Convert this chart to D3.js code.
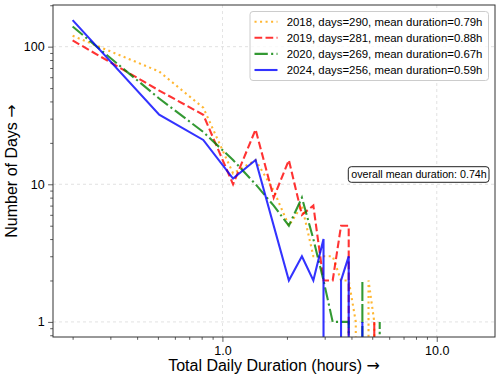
<!DOCTYPE html>
<html>
<head>
<meta charset="utf-8">
<script src="https://cdn.jsdelivr.net/npm/d3@7"></script>
<style>
	body { margin: 0; background: #fff; }
	text { font-family: "Liberation Sans", Arial, sans-serif; fill: #000; }
	.arrow { font-family: "DejaVu Sans", sans-serif; }
</style>
</head>
<body>
<div class="chart"></div>
<script>
// bin centres (hours) shared by every year
const binHours = [0.200, 0.507, 0.814, 1.121, 1.428, 1.735, 2.042, 2.349, 2.656, 2.963,
	3.270, 3.577, 3.884, 4.191, 4.498, 4.805, 5.112, 5.419, 5.726]

const years = ["2018", "2019", "2020", "2024"]
const days = [290, 281, 269, 256]
const meanHours = [0.79, 0.88, 0.67, 0.59]

const counts2018 = [120, 66, 36, 12, 15, 9, 5, 7, 3, 3, 3, 2, 2, 1, 0, 2, 1, 0, 0]
const counts2019 = [111, 48, 32, 10, 25, 8, 15, 6, 7, 2, 2, 5, 5, 0, 0, 0, 1, 0, 0]
const counts2020 = [140, 42, 24, 15, 10, 7, 5, 8, 4, 2, 1, 1, 1, 0, 2, 0, 0, 1, 0]
const counts2024 = [156, 32, 21, 11, 15, 5, 2, 3, 2, 4, 0, 2, 3, 0, 1, 0, 0, 0, 0]

const overallMean = 0.74
const xTicks = [1, 10]
const yTicks = [1, 10, 100]

const svgWidth = 500
const svgHeight = 380

let margin = { top: 5, right: 5, bottom: 43, left: 53 }
let width = svgWidth - margin.left - margin.right
let height = svgHeight - margin.top - margin.bottom

let allCounts = [counts2018, counts2019, counts2020, counts2024]
let colors = ["orange", "red", "green", "blue"]
let dashes = ["2.08 3.44", "7.7 3.33", "13.3 3.33 2.08 3.33", null]

let svg = d3.select(".chart")
	.append("svg")
	.attr("width", svgWidth)
	.attr("height", svgHeight)

let chartGroup = svg.append("g")
	.attr("transform", `translate(${margin.left}, ${margin.top})`)

// log y with 5% padding like matplotlib autoscale
let positive = allCounts.flat().filter(d => d > 0)
let lo = Math.log10(d3.min(positive)), hi = Math.log10(d3.max(positive))
let pad = (hi - lo) * 0.05

let x = d3.scaleLog().domain([0.162, 18.7]).range([0, width])
let y = d3.scaleLog().domain([10 ** (lo - pad), 10 ** (hi + pad)]).range([height, 0])

// grid
chartGroup.append("g").selectAll("line")
	.data(xTicks)
	.enter()
	.append("line")
	.attr("x1", d => x(d)).attr("x2", d => x(d))
	.attr("y1", 0).attr("y2", height)
	.attr("stroke", "#ccc").attr("stroke-width", 0.8)
	.attr("stroke-dasharray", "3 3").attr("opacity", 0.7)

chartGroup.append("g").selectAll("line")
	.data(yTicks)
	.enter()
	.append("line")
	.attr("y1", d => y(d)).attr("y2", d => y(d))
	.attr("x1", 0).attr("x2", width)
	.attr("stroke", "#ccc").attr("stroke-width", 0.8)
	.attr("stroke-dasharray", "3 3").attr("opacity", 0.7)

// axes
let xMinor = x.ticks().filter(d => !xTicks.includes(d))
let yMinor = y.ticks().filter(d => !yTicks.includes(d))

function styleAxis(g) {
	g.select(".domain").remove()
	g.selectAll("line").attr("stroke", "#333").attr("stroke-width", 0.8)
	g.selectAll("text").attr("font-size", "12.5px").attr("fill", "#000")
		.style("font-family", "'Liberation Sans', Arial, sans-serif")
}

chartGroup.append("g")
	.attr("transform", `translate(0, ${height})`)
	.call(d3.axisBottom(x).tickValues(xTicks).tickFormat(d3.format(".1f")).tickSize(4.9).tickPadding(4))
	.call(styleAxis)

chartGroup.append("g")
	.attr("transform", `translate(0, ${height})`)
	.call(d3.axisBottom(x).tickValues(xMinor).tickFormat("").tickSize(2.8))
	.call(styleAxis)

chartGroup.append("g")
	.call(d3.axisLeft(y).tickValues(yTicks).tickFormat(d3.format("d")).tickSize(4.9).tickPadding(3.5))
	.call(styleAxis)

chartGroup.append("g")
	.call(d3.axisLeft(y).tickValues(yMinor).tickFormat("").tickSize(2.8))
	.call(styleAxis)

// lines, clipped to the axes; zero counts drop off the bottom
svg.append("clipPath").attr("id", "plotclip")
	.append("rect").attr("width", width).attr("height", height)

let line = d3.line()
	.x(d => x(d.h))
	.y(d => d.n > 0 ? y(d.n) : height + 1e6)

let linesGroup = chartGroup.append("g").attr("clip-path", "url(#plotclip)")

allCounts.forEach((counts, i) => {
	let pts = counts.map((n, k) => ({ h: binHours[k], n: n }))
	linesGroup.append("path")
		.datum(pts)
		.attr("d", line)
		.attr("fill", "none")
		.attr("stroke", colors[i])
		.attr("stroke-opacity", 0.8)
		.attr("stroke-width", 2.1)
		.attr("stroke-dasharray", dashes[i])
})

// frame
chartGroup.append("rect")
	.attr("width", width).attr("height", height)
	.attr("fill", "none").attr("stroke", "#333").attr("stroke-width", 1)

// legend
let legend = svg.append("g")
legend.append("rect")
	.attr("x", 250).attr("y", 11.5).attr("width", 238.5).attr("height", 69)
	.attr("rx", 3)
	.attr("fill", "#fff").attr("fill-opacity", 0.8)
	.attr("stroke", "#ccc").attr("stroke-width", 1)

years.forEach((yr, i) => {
	let ry = 21.7 + i * 16.1
	legend.append("line")
		.attr("x1", 254.5).attr("x2", 277.5).attr("y1", ry).attr("y2", ry)
		.attr("stroke", colors[i]).attr("stroke-opacity", 0.8)
		.attr("stroke-width", 2.1).attr("stroke-dasharray", dashes[i])
	legend.append("text")
		.attr("x", 286.7).attr("y", ry)
		.attr("dy", "0.36em")
		.attr("font-size", "11.4px")
		.text(`${yr}, days=${days[i]}, mean duration=${meanHours[i].toFixed(2)}h`)
})

// overall mean note
svg.append("rect")
	.attr("x", 348.3).attr("y", 166.7).attr("width", 140.7).attr("height", 15.6)
	.attr("rx", 3)
	.attr("fill", "#fff").attr("stroke", "#222").attr("stroke-width", 1)

svg.append("text")
	.attr("x", 419).attr("y", 174.5)
	.attr("dy", "0.36em")
	.attr("text-anchor", "middle")
	.attr("font-size", "10.7px")
	.text(`overall mean duration: ${overallMean.toFixed(2)}h`)

// axis labels
let xLabel = svg.append("text")
	.attr("x", margin.left + width / 2)
	.attr("y", 370.5)
	.attr("text-anchor", "middle")
	.attr("font-size", "16px")
xLabel.append("tspan").text("Total Daily Duration (hours) ")
xLabel.append("tspan").attr("class", "arrow").text("→")

let yLabel = svg.append("text")
	.attr("transform", `translate(17, ${margin.top + height / 2}) rotate(-90)`)
	.attr("text-anchor", "middle")
	.attr("font-size", "16px")
yLabel.append("tspan").text("Number of Days ")
yLabel.append("tspan").attr("class", "arrow").text("→")
</script>
</body>
</html>
